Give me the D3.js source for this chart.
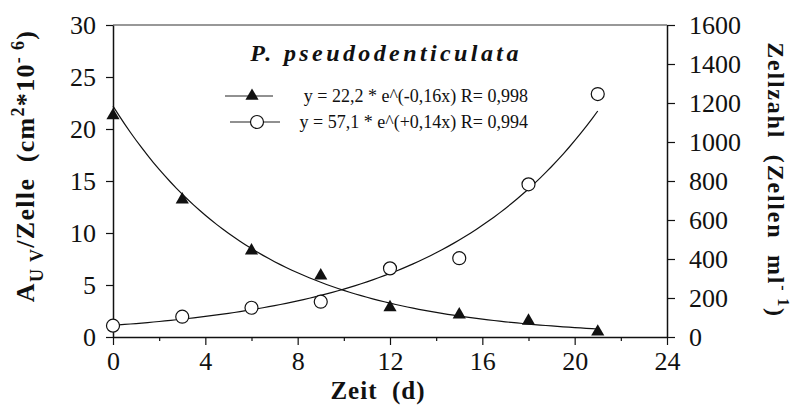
<!DOCTYPE html>
<html><head><meta charset="utf-8">
<script src="https://cdn.jsdelivr.net/npm/d3@7"></script>
<style>
body{margin:0;background:#fff;}
svg{display:block;}
</style></head>
<body>
<svg id="c" width="795" height="412"></svg>
<script>
// ---- data ----
const days = [0, 3, 6, 9, 12, 15, 18, 21];
const auvPerCell = [21.3, 13.2, 8.3, 5.9, 2.85, 2.15, 1.55, 0.5];
const cellCount = [58, 104, 150, 181, 352, 404, 783, 1246];
const xTicks = [0, 4, 8, 12, 16, 20, 24];
const xMinorTicks = [2, 6, 10, 14, 18, 22];
const yLeftTicks = [0, 5, 10, 15, 20, 25, 30];
const yRightTicks = [0, 200, 400, 600, 800, 1000, 1200, 1400, 1600];
const fitAuv = [22.2, -0.16];     // a, b of a*e^(b*x)
const fitCells = [60, 0.141];     // curve as drawn
const legendLabels = ["y = 22,2 * e^(-0,16x) R= 0,998", "y = 57,1 * e^(+0,14x) R= 0,994"];
const titleText = "P. pseudodenticulata";

// ---- layout ----
const SERIF = "Liberation Serif";
const svg = d3.select("#c");
const L = 113, R = 667, T = 25, B = 337;
const x = d3.scaleLinear().domain([0, 24]).range([L, R]);
const yL = d3.scaleLinear().domain([0, 30]).range([B, T]);
const yR = d3.scaleLinear().domain([0, 1600]).range([B, T]);
const FS = 26;
const fmt = d3.format("d");

// top border
svg.append("line").attr("x1", L).attr("x2", R).attr("y1", T).attr("y2", T)
  .attr("stroke", "#333").attr("stroke-width", 1.2);

// axes
svg.append("g").attr("transform", `translate(0,${B})`)
  .call(d3.axisBottom(x).tickValues(xTicks).tickSize(8).tickPadding(7).tickSizeOuter(0).tickFormat(fmt));
svg.append("g").attr("transform", `translate(0,${B})`)
  .call(d3.axisBottom(x).tickValues(xMinorTicks).tickSize(4).tickFormat("").tickSizeOuter(0))
  .select(".domain").remove();
svg.append("g").attr("transform", `translate(${L},0)`)
  .call(d3.axisLeft(yL).tickValues(yLeftTicks).tickSize(7).tickPadding(10).tickSizeOuter(0).tickFormat(fmt));
svg.append("g").attr("transform", `translate(${R},0)`)
  .call(d3.axisRight(yR).tickValues(yRightTicks).tickSize(8).tickPadding(14).tickSizeOuter(0).tickFormat(fmt));
svg.selectAll(".domain").attr("stroke", "#111").attr("stroke-width", 1.5);
svg.selectAll(".tick line").attr("stroke", "#111").attr("stroke-width", 1.2);
svg.selectAll(".tick text").attr("font-size", FS);

// fit curves
const xs = d3.range(0, 21.001, 0.25);
const lineL = d3.line().x(d => x(d)).y(d => yL(fitAuv[0] * Math.exp(fitAuv[1] * d)));
const lineR = d3.line().x(d => x(d)).y(d => yR(fitCells[0] * Math.exp(fitCells[1] * d)));
svg.append("path").attr("d", lineL(xs)).attr("fill", "none").attr("stroke", "#111").attr("stroke-width", 1.2);
svg.append("path").attr("d", lineR(xs)).attr("fill", "none").attr("stroke", "#111").attr("stroke-width", 1.2);

// markers
const tri = d3.symbol().type(d3.symbolTriangle).size(75);
svg.append("g").selectAll("path").data(days).join("path")
  .attr("d", tri).attr("transform", (d, i) => `translate(${x(d)},${yL(auvPerCell[i])})`)
  .attr("fill", "#111");
svg.append("g").selectAll("circle").data(days).join("circle")
  .attr("cx", d => x(d)).attr("cy", (d, i) => yR(cellCount[i])).attr("r", 6.5)
  .attr("fill", "#fff").attr("stroke", "#111").attr("stroke-width", 1.2);

// title
svg.append("text").attr("x", 386).attr("y", 61).attr("text-anchor", "middle")
  .attr("font-size", 24).attr("font-weight", "bold").attr("font-style", "italic")
  .attr("letter-spacing", 3.4).text(titleText);

// legend
svg.append("line").attr("x1", 225).attr("x2", 273).attr("y1", 96).attr("y2", 96).attr("stroke", "#222").attr("stroke-width", 1);
svg.append("path").attr("d", tri).attr("transform", "translate(252,96)").attr("fill", "#111");
svg.append("line").attr("x1", 230).attr("x2", 280).attr("y1", 122).attr("y2", 122).attr("stroke", "#222").attr("stroke-width", 1.2);
svg.append("circle").attr("cx", 257).attr("cy", 122).attr("r", 6.5).attr("fill", "#fff").attr("stroke", "#111").attr("stroke-width", 1.2);
svg.append("text").attr("x", 528).attr("y", 102).attr("text-anchor", "end").attr("font-size", 18).text(legendLabels[0]);
svg.append("text").attr("x", 528).attr("y", 128).attr("text-anchor", "end").attr("font-size", 18).text(legendLabels[1]);

// x title
svg.append("text").attr("x", 378).attr("y", 399).attr("text-anchor", "middle")
  .attr("font-size", 25).attr("font-weight", "bold").attr("letter-spacing", 1).text("Zeit\u00a0\u00a0(d)");

// left title
const lt = svg.append("text").attr("transform", "translate(34,166) rotate(-90)")
  .attr("text-anchor", "middle").attr("font-size", 26).attr("font-weight", "bold").attr("letter-spacing", 1.3);
lt.append("tspan").text("A");
lt.append("tspan").attr("font-size", 18).attr("dy", 9).text("U\u00a0V");
lt.append("tspan").attr("dy", -9).text("/Zelle\u00a0\u00a0(cm");
lt.append("tspan").attr("font-size", 18).attr("dy", -10).text("2");
lt.append("tspan").attr("dy", 10).text("*10");
lt.append("tspan").attr("font-size", 18).attr("dy", -10).text("-\u00a06");
lt.append("tspan").attr("dy", 10).text(")");

// right title
const rt = svg.append("text").attr("transform", "translate(768,180) rotate(90)")
  .attr("text-anchor", "middle").attr("font-size", 24).attr("font-weight", "bold").attr("letter-spacing", 1.8);
rt.append("tspan").text("Zellzahl\u00a0\u00a0(Zellen\u00a0\u00a0ml");
rt.append("tspan").attr("font-size", 16).attr("dy", -10).text("-\u00a01");
rt.append("tspan").attr("dy", 10).text(")");

// fonts on every text
svg.selectAll("g").attr("font-family", SERIF);
svg.selectAll("text").attr("font-family", SERIF).attr("fill", "#111");
</script>
</body></html>
